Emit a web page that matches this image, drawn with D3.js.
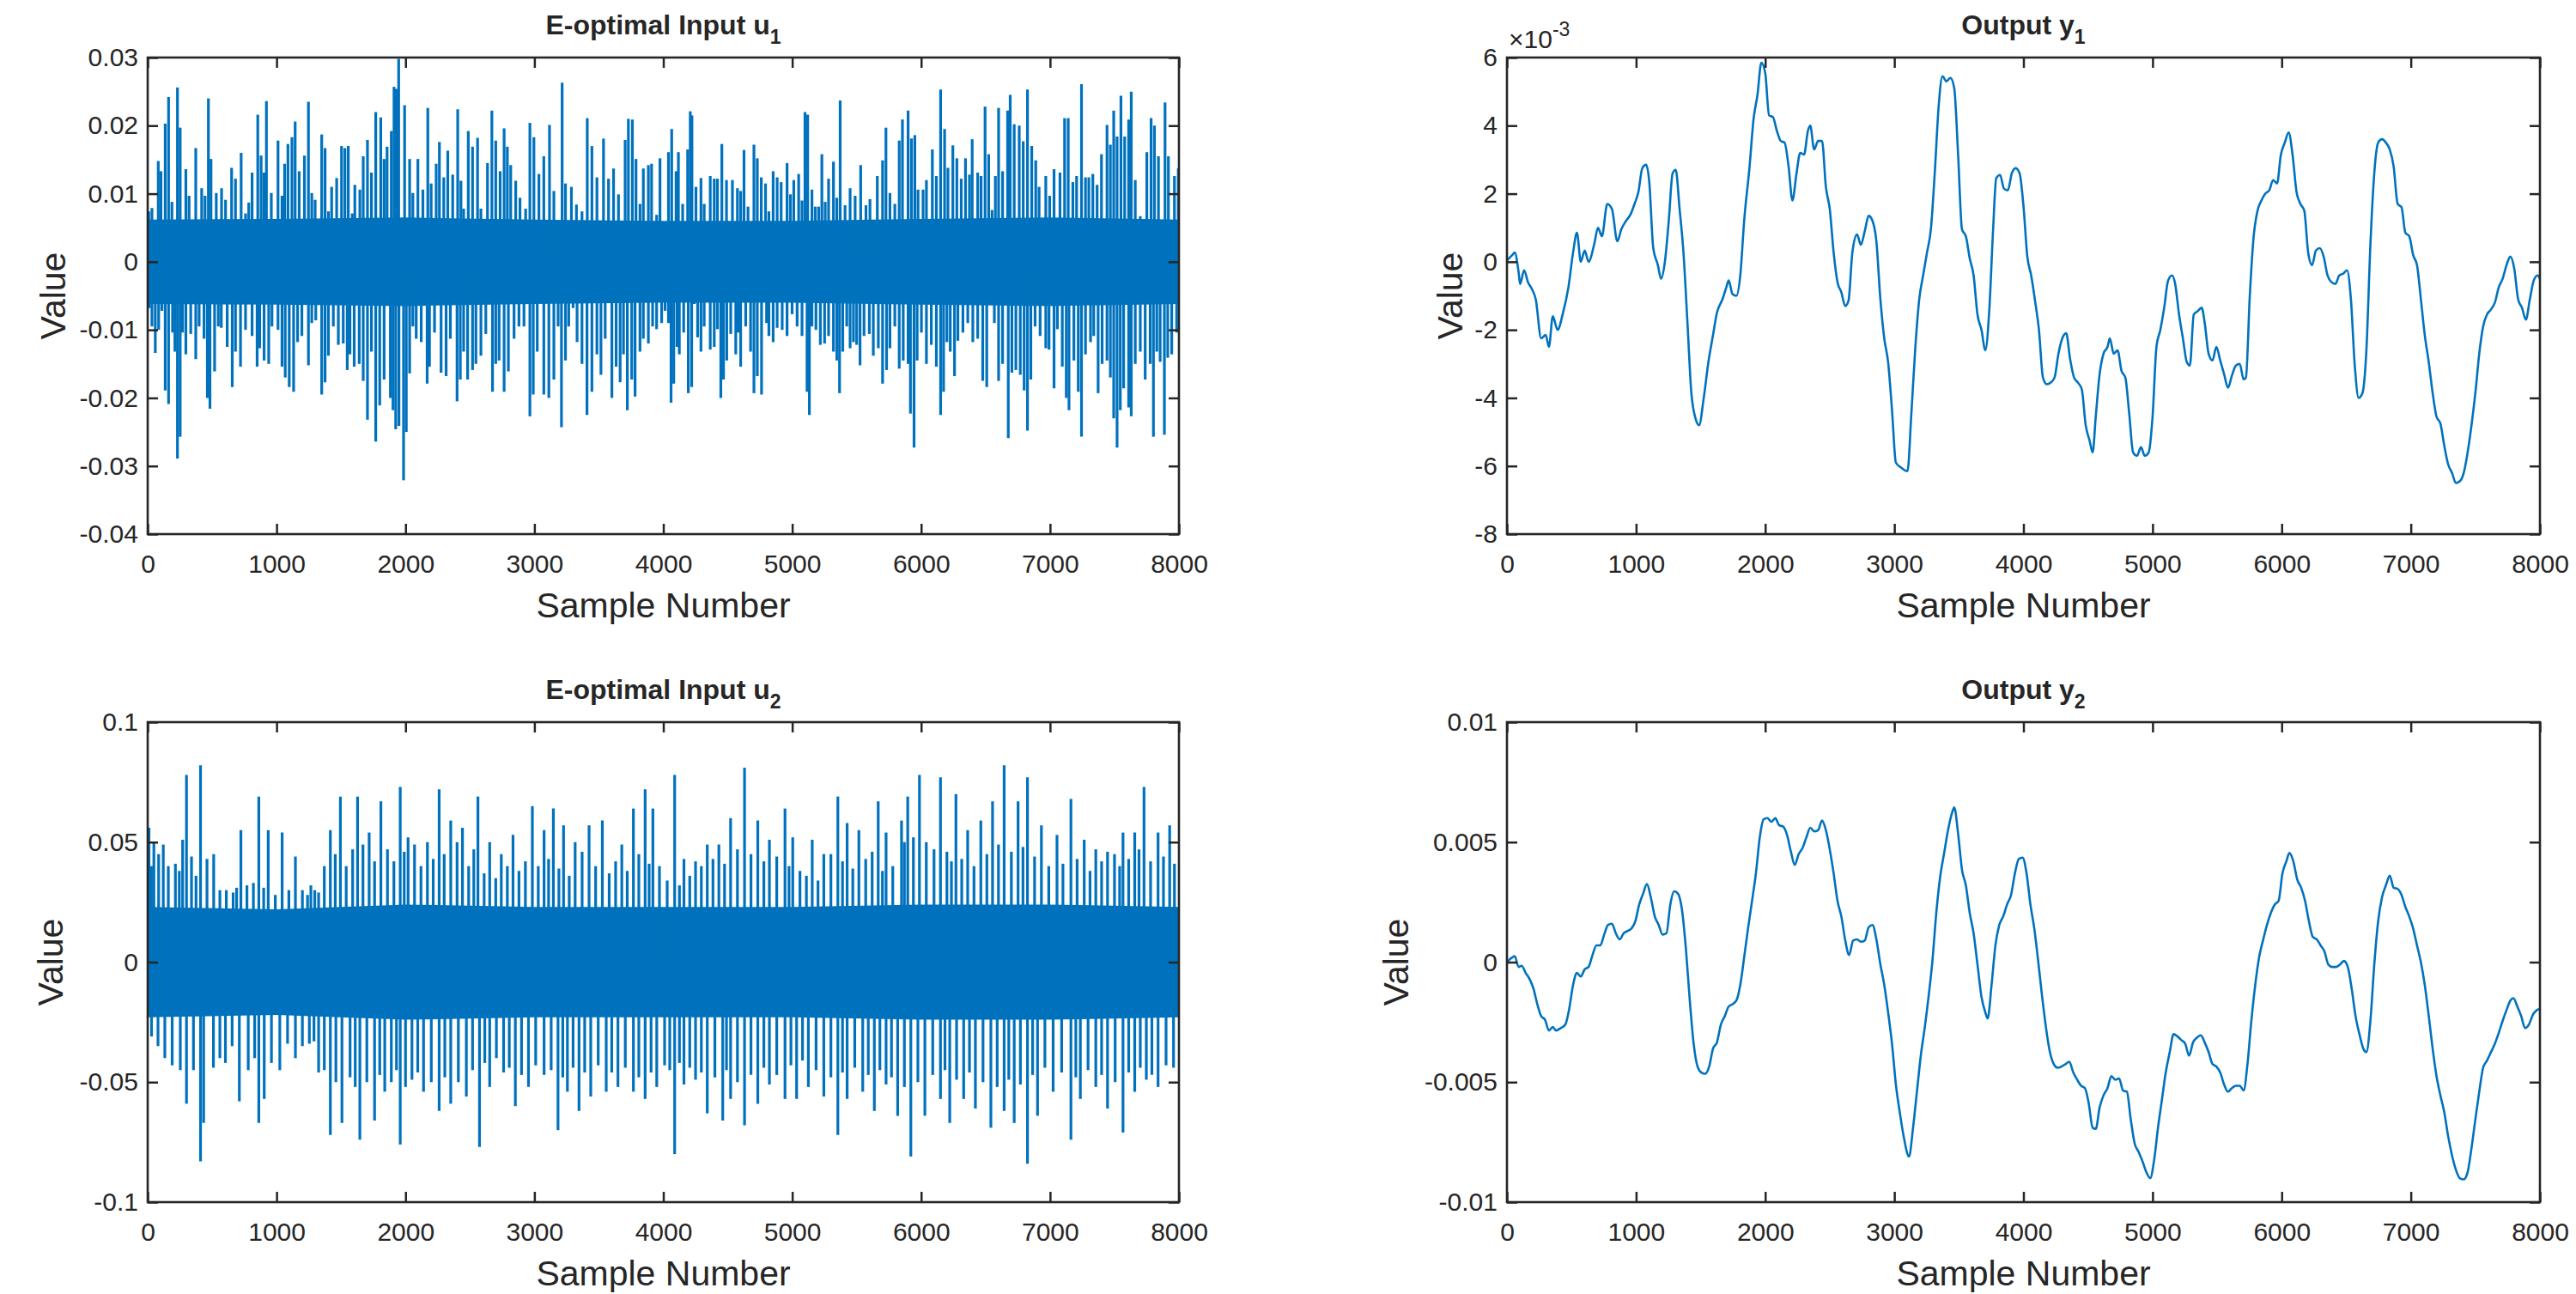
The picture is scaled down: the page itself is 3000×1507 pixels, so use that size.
<!DOCTYPE html>
<html>
<head>
<meta charset="utf-8">
<script src="https://cdn.jsdelivr.net/npm/d3@7"></script>
<style>
  body { margin: 0; background: #fff; }
  svg text { font-family: "Liberation Sans", Arial, Helvetica, sans-serif; fill: #262626; }
</style>
</head>
<body>
<div id="figure"></div>
<script>
const WIDTH = 3000;
const HEIGHT = 1507;
const SAMPLES = 8000;
const LINE_COLOR = "#0072bd";
const AXIS_COLOR = "#262626";
const TICK_LEN = 12;

// sample axis, shared by all four panels
const xTicks = [0, 1000, 2000, 3000, 4000, 5000, 6000, 7000, 8000];

// E-optimal input u1: visible spikes, [sample, value]
const u1Peaks = [
  [8,0.0074],[33,0.0079],[82,0.0148],[103,0.0133],[136,0.0203],[162,0.0242],[188,0.0088],[231,0.0256],[252,0.0197],[296,0.0136],
  [321,0.0097],[373,0.0167],[419,0.0108],[445,0.0097],[471,0.024],[491,0.0151],[532,0.0101],[573,0.0108],[604,0.0091],[651,0.0138],
  [681,0.0122],[725,0.016],[759,0.0071],[784,0.0087],[810,0.0131],[854,0.0216],[880,0.0156],[903,0.0131],[921,0.0236],[959,0.0101],
  [1011,0.0178],[1042,0.0097],[1062,0.0144],[1088,0.0173],[1119,0.0183],[1144,0.0206],[1175,0.0133],[1216,0.0156],[1247,0.0235],[1273,0.0101],
  [1299,0.0091],[1350,0.0187],[1376,0.0167],[1402,0.0074],[1427,0.011],[1466,0.0123],[1504,0.017],[1530,0.0167],[1556,0.017],[1587,0.0071],
  [1607,0.0113],[1646,0.0106],[1672,0.0155],[1705,0.0179],[1736,0.0131],[1769,0.022],[1808,0.0212],[1834,0.0151],[1857,0.0169],[1890,0.0192],
  [1911,0.0257],[1929,0.0254],[1947,0.0298],[1993,0.023],[2032,0.0151],[2057,0.0101],[2096,0.0151],[2135,0.0106],[2173,0.0226],[2199,0.0115],
  [2238,0.0144],[2263,0.0176],[2297,0.0124],[2328,0.0163],[2366,0.0128],[2405,0.0224],[2430,0.0119],[2451,0.0078],[2487,0.0192],[2520,0.0169],
  [2559,0.0182],[2585,0.0078],[2610,0.0062],[2636,0.0145],[2670,0.0222],[2700,0.0178],[2734,0.0133],[2765,0.0196],[2790,0.0169],[2816,0.0142],
  [2855,0.0119],[2888,0.0094],[2932,0.0078],[2965,0.0204],[2996,0.0183],[3035,0.0129],[3073,0.0155],[3117,0.0201],[3151,0.0104],[3215,0.0263],
  [3241,0.0115],[3287,0.011],[3326,0.0084],[3369,0.0074],[3410,0.0211],[3446,0.017],[3485,0.0124],[3536,0.0181],[3575,0.0122],[3614,0.0137],
  [3652,0.0099],[3704,0.0179],[3729,0.021],[3760,0.0209],[3788,0.0151],[3819,0.0085],[3845,0.0137],[3884,0.0142],[3909,0.0144],[3948,0.0069],
  [3974,0.0152],[4040,0.0161],[4065,0.0195],[4099,0.0133],[4117,0.0161],[4150,0.0085],[4189,0.0165],[4209,0.0221],[4222,0.0215],[4253,0.011],
  [4292,0.0123],[4317,0.0085],[4364,0.0126],[4395,0.0122],[4420,0.0122],[4454,0.0173],[4490,0.012],[4536,0.012],[4575,0.0108],[4600,0.0104],
  [4626,0.0164],[4657,0.0081],[4703,0.0172],[4729,0.0152],[4760,0.0124],[4793,0.0115],[4819,0.0074],[4852,0.0133],[4883,0.0124],[4914,0.0117],
  [4960,0.0145],[4986,0.0099],[5012,0.012],[5050,0.0129],[5076,0.009],[5099,0.022],[5120,0.0216],[5153,0.0106],[5179,0.0081],[5205,0.0081],
  [5230,0.0158],[5256,0.0088],[5282,0.0122],[5320,0.0147],[5346,0.0094],[5372,0.0237],[5410,0.0083],[5449,0.0108],[5488,0.0097],[5531,0.0142],
  [5572,0.0083],[5603,0.0092],[5660,0.0126],[5701,0.0149],[5727,0.0197],[5758,0.0101],[5796,0.0085],[5830,0.0178],[5855,0.0209],[5899,0.0222],
  [5925,0.0181],[5951,0.0186],[5976,0.0106],[6015,0.0106],[6041,0.012],[6087,0.0165],[6118,0.0126],[6151,0.0253],[6182,0.0195],[6208,0.0138],
  [6246,0.0171],[6277,0.0152],[6311,0.0122],[6344,0.0152],[6375,0.0128],[6396,0.018],[6439,0.0131],[6465,0.0126],[6496,0.0228],[6524,0.0158],
  [6550,0.0076],[6576,0.0126],[6601,0.0226],[6632,0.0133],[6671,0.0222],[6691,0.0245],[6722,0.0202],[6761,0.02],[6792,0.0177],[6825,0.0253],
  [6858,0.017],[6889,0.0149],[6915,0.011],[6967,0.0126],[6997,0.0097],[7031,0.0136],[7077,0.0131],[7113,0.0211],[7141,0.0211],[7177,0.0117],
  [7206,0.0126],[7244,0.0261],[7275,0.0124],[7301,0.0124],[7332,0.0129],[7365,0.0113],[7399,0.0158],[7442,0.0201],[7468,0.0172],[7494,0.0222],
  [7520,0.0184],[7550,0.0244],[7579,0.0184],[7610,0.0209],[7630,0.025],[7661,0.012],[7700,0.0067],[7751,0.0161],[7784,0.0211],[7810,0.02],
  [7841,0.0155],[7892,0.0234],[7918,0.0155],[7965,0.0126],[7995,0.0137]
];
const u1Troughs = [
  [13,-0.0068],[33,-0.0095],[59,-0.0134],[85,-0.01],[110,-0.0072],[136,-0.0189],[162,-0.0209],[193,-0.0104],[211,-0.0132],[231,-0.0289],
  [252,-0.0257],[270,-0.0104],[296,-0.0136],[334,-0.0106],[373,-0.0143],[399,-0.0095],[437,-0.0113],[463,-0.02],[483,-0.0216],[519,-0.0161],
  [548,-0.0095],[571,-0.0097],[617,-0.0125],[656,-0.0184],[681,-0.0132],[720,-0.0154],[759,-0.01],[810,-0.0109],[849,-0.0154],[869,-0.0127],
  [903,-0.0145],[939,-0.015],[964,-0.0095],[1011,-0.01],[1042,-0.0154],[1067,-0.017],[1098,-0.0184],[1132,-0.0191],[1163,-0.0118],[1196,-0.0109],
  [1247,-0.0152],[1273,-0.009],[1304,-0.0086],[1350,-0.0195],[1376,-0.0177],[1402,-0.0138],[1440,-0.0095],[1479,-0.0122],[1517,-0.012],[1548,-0.0159],
  [1569,-0.0136],[1602,-0.0154],[1641,-0.015],[1672,-0.0175],[1705,-0.0232],[1736,-0.0132],[1769,-0.0264],[1800,-0.0211],[1834,-0.0173],[1883,-0.02],
  [1903,-0.0218],[1924,-0.0246],[1949,-0.0241],[1985,-0.0321],[2006,-0.025],[2032,-0.0164],[2057,-0.0095],[2083,-0.0113],[2122,-0.0118],[2168,-0.0179],
  [2186,-0.0154],[2225,-0.0104],[2276,-0.0163],[2315,-0.0168],[2348,-0.0113],[2400,-0.0205],[2425,-0.0173],[2451,-0.0132],[2482,-0.0173],[2520,-0.0159],
  [2546,-0.015],[2585,-0.0138],[2623,-0.0106],[2675,-0.0191],[2700,-0.015],[2726,-0.0145],[2765,-0.0191],[2798,-0.0161],[2842,-0.0113],[2880,-0.0095],
  [2919,-0.0095],[2965,-0.0227],[2991,-0.0195],[3022,-0.0132],[3073,-0.0195],[3112,-0.02],[3151,-0.0173],[3184,-0.0095],[3210,-0.0243],[3241,-0.0145],
  [3266,-0.0095],[3300,-0.0068],[3331,-0.0118],[3369,-0.015],[3408,-0.0225],[3446,-0.0191],[3485,-0.0136],[3516,-0.0166],[3549,-0.0113],[3601,-0.02],
  [3634,-0.0154],[3665,-0.0177],[3691,-0.0136],[3721,-0.0218],[3755,-0.0173],[3781,-0.0198],[3819,-0.0132],[3845,-0.0113],[3884,-0.012],[3917,-0.0095],
  [3948,-0.0099],[3987,-0.009],[4014,-0.0072],[4040,-0.009],[4060,-0.0207],[4081,-0.0179],[4106,-0.0125],[4124,-0.0136],[4158,-0.0104],[4194,-0.0193],
  [4220,-0.0184],[4240,-0.0062],[4266,-0.0111],[4292,-0.0132],[4317,-0.0095],[4364,-0.0129],[4395,-0.0125],[4420,-0.0099],[4446,-0.02],[4467,-0.0173],
  [4492,-0.0145],[4523,-0.0106],[4562,-0.0136],[4580,-0.0104],[4600,-0.0154],[4639,-0.0095],[4677,-0.0132],[4703,-0.0193],[4729,-0.0168],[4762,-0.0195],
  [4801,-0.009],[4819,-0.0109],[4852,-0.0118],[4883,-0.0097],[4922,-0.01],[4960,-0.0109],[4999,-0.0077],[5038,-0.0095],[5076,-0.0109],[5115,-0.0191],
  [5133,-0.0225],[5153,-0.0095],[5184,-0.01],[5218,-0.0122],[5251,-0.012],[5282,-0.0109],[5320,-0.0132],[5346,-0.0145],[5367,-0.0193],[5392,-0.0132],
  [5423,-0.0095],[5449,-0.0127],[5475,-0.0118],[5500,-0.0122],[5526,-0.0152],[5557,-0.0109],[5598,-0.0106],[5629,-0.0138],[5668,-0.0127],[5701,-0.0179],
  [5732,-0.0159],[5758,-0.0127],[5796,-0.0095],[5830,-0.0157],[5861,-0.0145],[5899,-0.015],[5917,-0.0223],[5945,-0.0273],[5969,-0.0145],[6002,-0.0104],
  [6041,-0.015],[6079,-0.0122],[6118,-0.0154],[6151,-0.0225],[6174,-0.0191],[6200,-0.0118],[6226,-0.0132],[6259,-0.0168],[6285,-0.0116],[6324,-0.0104],
  [6362,-0.009],[6401,-0.0118],[6439,-0.0113],[6478,-0.0175],[6509,-0.0184],[6542,-0.0063],[6568,-0.009],[6601,-0.0175],[6632,-0.015],[6676,-0.0259],
  [6704,-0.0163],[6735,-0.0159],[6769,-0.0166],[6799,-0.0189],[6825,-0.0248],[6851,-0.0173],[6884,-0.0095],[6923,-0.0109],[6967,-0.0127],[6992,-0.0129],
  [7031,-0.0186],[7057,-0.0099],[7095,-0.0154],[7126,-0.02],[7147,-0.0218],[7185,-0.0145],[7219,-0.0191],[7244,-0.0257],[7275,-0.0136],[7314,-0.0118],
  [7339,-0.0109],[7373,-0.0193],[7404,-0.015],[7442,-0.0145],[7468,-0.017],[7494,-0.023],[7520,-0.0273],[7545,-0.0218],[7571,-0.0186],[7610,-0.0214],
  [7630,-0.0227],[7661,-0.015],[7700,-0.0132],[7738,-0.0173],[7777,-0.015],[7802,-0.0257],[7828,-0.0132],[7854,-0.0147],[7887,-0.0254],[7913,-0.0141],
  [7944,-0.0136],[7982,-0.0104]
];

// E-optimal input u2: tallest spikes, [sample, value]
const u2Peaks = [
  [10,0.056],[48,0.05],[121,0.049],[271,0.051],[301,0.078],[410,0.082],[512,0.045],[663,0.029],[723,0.055],[862,0.069],
  [935,0.055],[1043,0.054],[1146,0.044],[1266,0.032],[1326,0.029],[1417,0.055],[1495,0.069],[1628,0.069],[1718,0.054],[1809,0.067],
  [1959,0.073],[2020,0.052],[2170,0.05],[2261,0.072],[2351,0.059],[2442,0.056],[2562,0.069],[2653,0.05],[2743,0.045],[2834,0.053],
  [2984,0.065],[3075,0.055],[3147,0.064],[3226,0.057],[3316,0.05],[3424,0.057],[3527,0.059],[3678,0.049],[3768,0.064],[3859,0.072],
  [3919,0.064],[4088,0.078],[4160,0.043],[4250,0.042],[4341,0.049],[4431,0.049],[4522,0.06],[4630,0.081],[4733,0.059],[4823,0.051],
  [4944,0.064],[5004,0.052],[5155,0.051],[5245,0.045],[5354,0.069],[5426,0.058],[5517,0.055],[5667,0.067],[5728,0.054],[5848,0.059],
  [5896,0.069],[5987,0.078],[6150,0.077],[6270,0.07],[6361,0.055],[6463,0.059],[6554,0.067],[6644,0.082],[6752,0.067],[6825,0.077],
  [6933,0.057],[7054,0.053],[7162,0.068],[7265,0.051],[7355,0.047],[7446,0.046],[7566,0.054],[7657,0.054],[7729,0.073],[7838,0.054],
  [7928,0.057]
];
const u2Troughs = [
  [30,-0.031],[133,-0.04],[253,-0.045],[301,-0.059],[410,-0.083],[434,-0.067],[603,-0.042],[711,-0.058],[862,-0.067],[904,-0.057],
  [1025,-0.045],[1146,-0.04],[1254,-0.034],[1326,-0.046],[1417,-0.072],[1507,-0.067],[1646,-0.074],[1760,-0.066],[1839,-0.054],[1959,-0.076],
  [2050,-0.049],[2140,-0.054],[2261,-0.062],[2351,-0.059],[2472,-0.056],[2574,-0.077],[2653,-0.052],[2761,-0.046],[2852,-0.06],[2954,-0.052],
  [3075,-0.047],[3183,-0.07],[3256,-0.054],[3346,-0.062],[3437,-0.056],[3557,-0.054],[3648,-0.052],[3768,-0.054],[3859,-0.057],[3949,-0.052],
  [4088,-0.08],[4160,-0.051],[4250,-0.049],[4341,-0.063],[4461,-0.066],[4522,-0.057],[4630,-0.068],[4733,-0.059],[4823,-0.051],[4944,-0.057],
  [5034,-0.057],[5125,-0.052],[5245,-0.056],[5354,-0.072],[5426,-0.057],[5547,-0.054],[5637,-0.062],[5728,-0.051],[5818,-0.064],[5920,-0.081],
  [6029,-0.064],[6150,-0.057],[6222,-0.067],[6330,-0.057],[6421,-0.061],[6541,-0.069],[6644,-0.062],[6722,-0.067],[6825,-0.084],[6903,-0.064],
  [7024,-0.054],[7162,-0.074],[7235,-0.057],[7355,-0.052],[7446,-0.061],[7566,-0.071],[7657,-0.054],[7747,-0.049],[7838,-0.052],[7958,-0.044]
];

// u2: the denser fringe of medium spikes between the tall ones
const u2PeaksMid = [
  [29,0.04],[85,0.045],[160,0.04],[215,0.041],[245,0.038],[340,0.044],[375,0.036],[460,0.043],[560,0.03],[610,0.03],
  [690,0.031],[770,0.032],[820,0.033],[900,0.031],[990,0.028],[1095,0.03],[1200,0.03],[1240,0.028],[1296,0.03],[1370,0.04],
  [1455,0.045],[1540,0.04],[1590,0.047],[1670,0.049],[1760,0.042],[1860,0.047],[1910,0.042],[1990,0.046],[2070,0.049],[2120,0.04],
  [2215,0.043],[2300,0.045],[2400,0.05],[2490,0.04],[2530,0.047],[2610,0.037],[2700,0.035],[2790,0.04],[2880,0.038],[2930,0.042],
  [3030,0.04],[3110,0.043],[3190,0.039],[3270,0.036],[3370,0.046],[3475,0.04],[3580,0.037],[3630,0.042],[3720,0.038],[3810,0.045],
  [3890,0.041],[3970,0.04],[4030,0.034],[4125,0.032],[4205,0.036],[4295,0.04],[4385,0.043],[4475,0.041],[4575,0.047],[4680,0.045],
  [4780,0.042],[4880,0.044],[4975,0.04],[5060,0.038],[5110,0.036],[5200,0.034],[5300,0.045],[5390,0.042],[5470,0.039],[5570,0.043],
  [5620,0.046],[5700,0.038],[5780,0.04],[5870,0.05],[5940,0.052],[6040,0.05],[6100,0.047],[6200,0.046],[6235,0.042],[6315,0.043],
  [6410,0.04],[6510,0.045],[6600,0.049],[6700,0.046],[6790,0.048],[6880,0.044],[6990,0.04],[7100,0.041],[7210,0.043],[7310,0.038],
  [7400,0.042],[7500,0.045],[7540,0.04],[7610,0.043],[7690,0.047],[7780,0.042],[7880,0.044],[7965,0.041]
];
const u2TroughsMid = [
  [80,-0.035],[190,-0.043],[355,-0.045],[510,-0.044],[560,-0.04],[655,-0.035],[780,-0.045],[830,-0.04],[960,-0.042],[1085,-0.034],
  [1200,-0.035],[1290,-0.033],[1370,-0.045],[1460,-0.05],[1570,-0.048],[1610,-0.052],[1700,-0.05],[1800,-0.047],[1890,-0.05],[1930,-0.045],
  [2000,-0.052],[2095,-0.046],[2200,-0.05],[2305,-0.048],[2410,-0.05],[2520,-0.045],[2615,-0.042],[2705,-0.04],[2805,-0.044],[2900,-0.047],
  [3010,-0.043],[3130,-0.045],[3220,-0.048],[3300,-0.044],[3390,-0.046],[3495,-0.043],[3600,-0.046],[3705,-0.044],[3810,-0.048],[3905,-0.046],
  [4010,-0.043],[4050,-0.045],[4125,-0.042],[4205,-0.044],[4295,-0.046],[4400,-0.048],[4490,-0.045],[4575,-0.05],[4680,-0.047],[4780,-0.044],
  [4880,-0.047],[4990,-0.043],[5080,-0.041],[5185,-0.045],[5300,-0.048],[5390,-0.046],[5485,-0.044],[5590,-0.047],[5680,-0.045],[5770,-0.048],
  [5870,-0.052],[5975,-0.05],[6090,-0.047],[6185,-0.045],[6275,-0.049],[6375,-0.046],[6480,-0.05],[6590,-0.052],[6680,-0.049],[6770,-0.051],
  [6865,-0.047],[6960,-0.044],[7090,-0.046],[7200,-0.048],[7295,-0.045],[7400,-0.047],[7505,-0.05],[7610,-0.046],[7700,-0.044],[7790,-0.047],
  [7900,-0.043]
];

// dense band of the inputs, read every 1000 samples
const coreSamples = [0, 1000, 2000, 3000, 4000, 5000, 6000, 7000, 8000];
const u1CoreHi = [0.0062, 0.0063, 0.0065, 0.0062, 0.0060, 0.0060, 0.0063, 0.0065, 0.0062];
const u1CoreLo = [-0.0062, -0.0063, -0.0065, -0.0062, -0.0060, -0.0060, -0.0063, -0.0065, -0.0062];
const u2CoreHi = [0.023, 0.022, 0.024, 0.023, 0.023, 0.023, 0.024, 0.024, 0.023];
const u2CoreLo = [-0.023, -0.022, -0.024, -0.023, -0.023, -0.023, -0.024, -0.024, -0.023];

// output y1, [sample, value x 1e-3]
const y1Points = [
  [0,0.04],[42,0.2],[60,0.27],[90,-0.3],[102,-0.65],[133,-0.25],[163,-0.6],[193,-0.8],[223,-1.1],[265,-2.25],
  [300,-2.15],[325,-2.5],[355,-1.6],[392,-2.0],[434,-1.5],[476,-0.75],[512,0.27],[542,0.85],[572,0],[602,0.33],
  [632,0],[675,0.5],[705,1.0],[735,0.75],[777,1.7],[813,1.55],[855,0.6],[885,0.95],[922,1.2],[958,1.4],
  [988,1.7],[1018,2.05],[1048,2.75],[1078,2.85],[1102,2.35],[1133,0.4],[1169,-0.1],[1193,-0.5],[1223,0],[1253,1.2],
  [1283,2.6],[1307,2.7],[1337,1.55],[1367,0.27],[1398,-1.8],[1428,-3.85],[1464,-4.65],[1488,-4.8],[1524,-4.0],[1560,-2.95],
  [1596,-2.15],[1626,-1.5],[1669,-1.1],[1699,-0.75],[1717,-0.55],[1747,-0.95],[1777,-1.0],[1807,-0.4],[1837,1.2],[1879,2.8],
  [1910,4.2],[1940,4.9],[1970,5.85],[2000,5.55],[2030,4.3],[2060,4.25],[2090,3.85],[2120,3.55],[2150,3.5],[2181,2.8],
  [2211,1.8],[2241,2.55],[2271,3.2],[2301,3.15],[2331,3.85],[2349,4.0],[2379,3.3],[2410,3.55],[2440,3.55],[2470,2.2],
  [2500,1.55],[2530,0.27],[2560,-0.6],[2590,-0.9],[2620,-1.3],[2645,-1.15],[2675,0.27],[2711,0.8],[2741,0.5],[2771,0.9],
  [2801,1.35],[2831,1.2],[2861,0.6],[2892,-1.1],[2922,-2.25],[2952,-2.95],[2982,-4.35],[3012,-5.9],[3054,-6.05],[3102,-6.15],
  [3132,-4.45],[3163,-2.5],[3193,-1.1],[3223,-0.4],[3253,0.27],[3283,0.95],[3313,2.6],[3343,4.55],[3373,5.45],[3404,5.3],
  [3434,5.4],[3464,5.1],[3494,3.15],[3524,0.95],[3554,0.75],[3584,0.1],[3614,-0.4],[3644,-1.55],[3675,-2.0],[3705,-2.6],
  [3735,-1.45],[3765,0.95],[3789,2.45],[3819,2.55],[3849,2.15],[3879,2.1],[3910,2.6],[3940,2.75],[3970,2.6],[4000,1.65],
  [4030,0.15],[4060,-0.4],[4090,-1.15],[4120,-2.0],[4151,-3.4],[4181,-3.6],[4211,-3.55],[4241,-3.4],[4271,-2.7],[4301,-2.25],
  [4331,-2.1],[4361,-2.85],[4392,-3.4],[4422,-3.55],[4452,-3.75],[4482,-4.8],[4512,-5.25],[4536,-5.6],[4560,-4.55],[4590,-3.3],
  [4620,-2.7],[4651,-2.5],[4669,-2.25],[4699,-2.7],[4729,-2.6],[4759,-3.2],[4789,-3.4],[4819,-4.45],[4849,-5.6],[4879,-5.7],
  [4910,-5.45],[4940,-5.7],[4970,-5.6],[5000,-4.55],[5030,-2.5],[5060,-2.0],[5090,-1.35],[5120,-0.55],[5151,-0.4],[5175,-0.65],
  [5205,-1.55],[5235,-2.25],[5265,-2.95],[5289,-3.05],[5319,-1.55],[5350,-1.45],[5380,-1.35],[5404,-1.8],[5434,-2.7],[5464,-2.9],
  [5494,-2.5],[5524,-2.9],[5554,-3.3],[5584,-3.7],[5614,-3.35],[5645,-3.05],[5675,-3.0],[5705,-3.45],[5723,-3.4],[5753,-1.0],
  [5783,0.75],[5813,1.5],[5843,1.8],[5873,2.0],[5904,2.1],[5934,2.4],[5964,2.3],[5994,3.15],[6024,3.5],[6054,3.8],
  [6084,3.15],[6115,2.05],[6145,1.7],[6175,1.5],[6205,0.27],[6235,-0.1],[6265,0.33],[6295,0.4],[6325,0.15],[6355,-0.4],
  [6386,-0.6],[6416,-0.65],[6446,-0.4],[6476,-0.35],[6506,-0.25],[6536,-1.1],[6566,-3.05],[6596,-4.0],[6626,-3.85],[6656,-2.6],
  [6687,0.5],[6717,2.6],[6747,3.5],[6777,3.6],[6807,3.5],[6837,3.3],[6867,2.8],[6898,1.7],[6928,1.6],[6958,0.85],
  [6988,0.75],[7018,0.2],[7048,-0.1],[7078,-1.1],[7108,-2.15],[7139,-2.95],[7169,-3.85],[7199,-4.55],[7229,-4.75],[7259,-5.4],
  [7289,-5.95],[7319,-6.2],[7349,-6.5],[7379,-6.45],[7410,-6.2],[7440,-5.6],[7470,-4.8],[7500,-3.85],[7530,-2.7],[7560,-1.9],
  [7590,-1.55],[7621,-1.4],[7651,-1.2],[7681,-0.75],[7711,-0.5],[7741,-0.1],[7771,0.15],[7801,-0.2],[7831,-1.1],[7861,-1.35],
  [7891,-1.7],[7922,-1.1],[7952,-0.55],[7982,-0.4],[8000,-0.5]
];

// output y2, [sample, value x 1e-3]
const y2Points = [
  [0,0],[42,0.2],[60,0.25],[90,-0.2],[114,-0.15],[145,-0.45],[175,-0.7],[205,-1.1],[235,-1.75],[265,-2.25],
  [295,-2.4],[325,-2.85],[355,-2.7],[380,-2.85],[416,-2.75],[452,-2.6],[482,-1.95],[512,-0.95],[542,-0.45],[572,-0.6],
  [602,-0.3],[632,-0.2],[663,0.3],[693,0.7],[723,0.7],[753,1.15],[783,1.55],[813,1.6],[843,1.2],[873,0.95],
  [904,1.2],[934,1.3],[964,1.4],[994,1.7],[1024,2.4],[1054,2.85],[1084,3.25],[1114,2.7],[1145,1.9],[1175,1.55],
  [1205,1.15],[1235,1.2],[1265,2.4],[1295,2.95],[1325,2.85],[1355,2.2],[1386,0.55],[1416,-1.6],[1446,-3.4],[1476,-4.35],
  [1506,-4.6],[1536,-4.65],[1566,-4.35],[1596,-3.6],[1626,-3.35],[1657,-2.6],[1687,-2.25],[1717,-1.85],[1747,-1.75],[1777,-1.6],
  [1807,-0.95],[1837,0.2],[1867,1.4],[1898,2.55],[1928,3.7],[1958,5.2],[1988,5.95],[2018,6.0],[2048,5.85],[2078,6.0],
  [2108,5.7],[2139,5.65],[2169,5.3],[2199,4.6],[2229,4.05],[2259,4.5],[2289,4.75],[2319,5.2],[2349,5.6],[2379,5.45],
  [2410,5.5],[2440,5.9],[2470,5.5],[2500,4.7],[2530,3.7],[2560,2.55],[2590,1.9],[2620,0.9],[2650,0.3],[2681,0.9],
  [2711,0.95],[2741,0.85],[2771,0.9],[2801,1.45],[2831,1.55],[2861,0.95],[2892,-0.1],[2922,-0.95],[2952,-2.1],[2982,-3.4],
  [3012,-5.1],[3042,-6.25],[3072,-7.25],[3114,-8.1],[3145,-6.9],[3175,-5.4],[3205,-3.9],[3235,-2.75],[3265,-1.45],[3295,0.05],
  [3325,2.05],[3355,3.55],[3386,4.55],[3416,5.5],[3446,6.2],[3464,6.45],[3494,5.35],[3524,3.85],[3554,3.2],[3584,2.05],
  [3614,1.2],[3644,-0.1],[3675,-1.45],[3705,-2.1],[3723,-2.35],[3753,-0.95],[3783,0.7],[3813,1.55],[3843,1.9],[3873,2.4],
  [3904,2.8],[3934,3.7],[3964,4.3],[3994,4.35],[4024,3.7],[4054,2.4],[4084,1.4],[4114,0.05],[4145,-1.45],[4175,-2.75],
  [4205,-3.75],[4235,-4.25],[4265,-4.4],[4295,-4.35],[4325,-4.25],[4355,-4.15],[4386,-4.6],[4416,-4.9],[4446,-5.15],[4476,-5.25],
  [4506,-5.9],[4536,-6.9],[4560,-6.95],[4590,-6.05],[4620,-5.55],[4651,-5.25],[4681,-4.75],[4711,-4.9],[4741,-4.85],[4771,-5.35],
  [4801,-5.4],[4831,-6.55],[4861,-7.55],[4891,-7.9],[4922,-8.3],[4952,-8.75],[4982,-9.0],[5012,-8.25],[5042,-6.9],[5072,-5.75],
  [5102,-4.6],[5133,-3.75],[5163,-3.0],[5193,-3.1],[5223,-3.25],[5253,-3.4],[5283,-3.9],[5313,-3.35],[5343,-3.15],[5374,-3.05],
  [5404,-3.35],[5434,-3.75],[5464,-4.25],[5494,-4.35],[5524,-4.6],[5554,-5.1],[5584,-5.4],[5614,-5.25],[5645,-5.15],[5675,-5.15],
  [5705,-5.35],[5735,-4.25],[5765,-2.45],[5795,-0.95],[5825,0.2],[5855,0.9],[5886,1.55],[5916,2.05],[5946,2.4],[5976,2.55],
  [6006,3.7],[6036,4.2],[6060,4.55],[6090,4.2],[6120,3.45],[6151,3.1],[6181,2.55],[6211,1.7],[6241,1.05],[6271,0.95],
  [6301,0.7],[6331,0.45],[6361,-0.1],[6392,-0.2],[6422,-0.2],[6452,-0.1],[6482,0.05],[6512,-0.2],[6542,-1.1],[6572,-2.25],
  [6602,-3.0],[6632,-3.6],[6656,-3.75],[6687,-2.45],[6717,-0.1],[6747,1.7],[6777,2.7],[6807,3.2],[6837,3.6],[6867,3.1],
  [6898,3.05],[6928,2.8],[6958,2.3],[6988,1.9],[7018,1.4],[7048,0.7],[7078,0],[7108,-0.95],[7139,-2.25],[7169,-3.6],
  [7199,-4.75],[7229,-5.55],[7259,-6.25],[7289,-7.25],[7319,-8.05],[7349,-8.65],[7379,-9.0],[7410,-9.05],[7440,-8.75],[7470,-7.75],
  [7500,-6.55],[7530,-5.4],[7560,-4.4],[7590,-4.1],[7621,-3.75],[7651,-3.4],[7681,-2.95],[7711,-2.45],[7741,-2.0],[7771,-1.6],
  [7795,-1.5],[7825,-1.85],[7855,-2.25],[7885,-2.75],[7915,-2.6],[7945,-2.2],[7976,-2.0],[8000,-1.95]
];

const u1Ticks = [-0.04, -0.03, -0.02, -0.01, 0, 0.01, 0.02, 0.03];
const y1Ticks = [-8, -6, -4, -2, 0, 2, 4, 6];
const u2Ticks = [-0.1, -0.05, 0, 0.05, 0.1];
const y2Ticks = [-10, -5, 0, 5, 10];

const svg = d3.select("#figure")
  .append("svg")
  .attr("width", WIDTH)
  .attr("height", HEIGHT)
  .attr("viewBox", `0 0 ${WIDTH} ${HEIGHT}`);

function makePanel(id, box, yDomain, yTicks, yFormat, title, sub, labelOffset) {
  const x = d3.scaleLinear().domain([0, SAMPLES]).range([box.left, box.left + box.width]);
  const y = d3.scaleLinear().domain(yDomain).range([box.top + box.height, box.top]);
  const g = svg.append("g").attr("id", id);

  g.append("clipPath").attr("id", `clip-${id}`)
    .append("rect")
    .attr("x", box.left).attr("y", box.top)
    .attr("width", box.width).attr("height", box.height);

  const plot = g.append("g").attr("clip-path", `url(#clip-${id})`);

  const styleAxis = (sel) => {
    sel.select(".domain").remove();
    sel.selectAll(".tick line").attr("stroke", AXIS_COLOR).attr("stroke-width", 2.5);
    sel.selectAll(".tick text").attr("font-size", 30).attr("fill", AXIS_COLOR)
      .attr("font-family", '"Liberation Sans", Arial, sans-serif');
  };

  g.append("g").attr("transform", `translate(0,${box.top + box.height})`)
    .call(d3.axisBottom(x).tickValues(xTicks).tickSize(-TICK_LEN).tickPadding(24).tickFormat(d3.format("d")))
    .call(styleAxis);
  g.append("g").attr("transform", `translate(0,${box.top})`)
    .call(d3.axisTop(x).tickValues(xTicks).tickSize(-TICK_LEN).tickFormat(""))
    .call(styleAxis);
  g.append("g").attr("transform", `translate(${box.left},0)`)
    .call(d3.axisLeft(y).tickValues(yTicks).tickSize(-TICK_LEN).tickPadding(11).tickFormat(yFormat))
    .call(styleAxis);
  g.append("g").attr("transform", `translate(${box.left + box.width},0)`)
    .call(d3.axisRight(y).tickValues(yTicks).tickSize(-TICK_LEN).tickFormat(""))
    .call(styleAxis);

  const t = g.append("text")
    .attr("x", box.left + box.width / 2)
    .attr("y", box.top - 27)
    .attr("text-anchor", "middle")
    .attr("font-size", 32)
    .attr("font-weight", "bold")
    .attr("fill", "#000")
    .text(title);
  t.append("tspan").attr("font-size", 23).attr("dy", 11).text(sub);

  g.append("text")
    .attr("x", box.left + box.width / 2)
    .attr("y", box.top + box.height + 97)
    .attr("text-anchor", "middle")
    .attr("font-size", 41)
    .text("Sample Number");

  g.append("text")
    .attr("transform", `translate(${box.left - labelOffset},${box.top + box.height / 2}) rotate(-90)`)
    .attr("text-anchor", "middle")
    .attr("dy", "0.35em")
    .attr("font-size", 41)
    .text("Value");

  return { x, y, g, plot, box };
}

// the frame goes on top of the data, as in the original
function drawFrame(panel) {
  const { g, box } = panel;
  g.append("rect")
    .attr("x", box.left).attr("y", box.top)
    .attr("width", box.width).attr("height", box.height)
    .attr("fill", "none").attr("stroke", AXIS_COLOR).attr("stroke-width", 2.6);
}

function drawNoise(panel, spikes, coreHi, coreLo) {
  const { x, y, plot } = panel;
  const core = coreSamples.map((s, i) => ({ s, hi: coreHi[i], lo: coreLo[i] }));
  plot.append("path")
    .datum(core)
    .attr("fill", LINE_COLOR)
    .attr("d", d3.area().x(d => x(d.s)).y0(d => y(d.lo)).y1(d => y(d.hi)));

  plot.selectAll("line.spike")
    .data(spikes)
    .enter()
    .append("line")
    .attr("class", "spike")
    .attr("x1", d => x(d[0]))
    .attr("x2", d => x(d[0]))
    .attr("y1", y(0))
    .attr("y2", d => y(d[1]))
    .attr("stroke", LINE_COLOR)
    .attr("stroke-width", 3.2);
}

function drawCurve(panel, points) {
  const { x, y, plot } = panel;
  plot.append("path")
    .datum(points)
    .attr("fill", "none")
    .attr("stroke", LINE_COLOR)
    .attr("stroke-width", 2.6)
    .attr("stroke-linejoin", "round")
    .attr("d", d3.line().curve(d3.curveMonotoneX).x(d => x(d[0])).y(d => y(d[1])));
}

const numFmt = v => String(v);

const pU1 = makePanel("u1", { left: 172, top: 67, width: 1201, height: 555 },
  [-0.04, 0.03], u1Ticks, numFmt, "E-optimal Input u", "1", 110);
drawNoise(pU1, u1Peaks.concat(u1Troughs), u1CoreHi, u1CoreLo);
drawFrame(pU1);

const pY1 = makePanel("y1", { left: 1755, top: 67, width: 1203, height: 555 },
  [-8, 6], y1Ticks, numFmt, "Output y", "1", 66);
drawCurve(pY1, y1Points);
drawFrame(pY1);

// exponent label of the y1 axis
const expo = pY1.g.append("text")
  .attr("x", 1757)
  .attr("y", 56)
  .attr("font-size", 30)
  .text("\u00d710");
expo.append("tspan").attr("font-size", 23).attr("dy", -14).text("-3");

const pU2 = makePanel("u2", { left: 172, top: 841, width: 1201, height: 559 },
  [-0.1, 0.1], u2Ticks, numFmt, "E-optimal Input u", "2", 113);
drawNoise(pU2, u2Peaks.concat(u2Troughs, u2PeaksMid, u2TroughsMid), u2CoreHi, u2CoreLo);
drawFrame(pU2);

const pY2 = makePanel("y2", { left: 1755, top: 841, width: 1203, height: 559 },
  [-10, 10], y2Ticks, v => String(v / 1000), "Output y", "2", 129);
drawCurve(pY2, y2Points);
drawFrame(pY2);
</script>
</body>
</html>
